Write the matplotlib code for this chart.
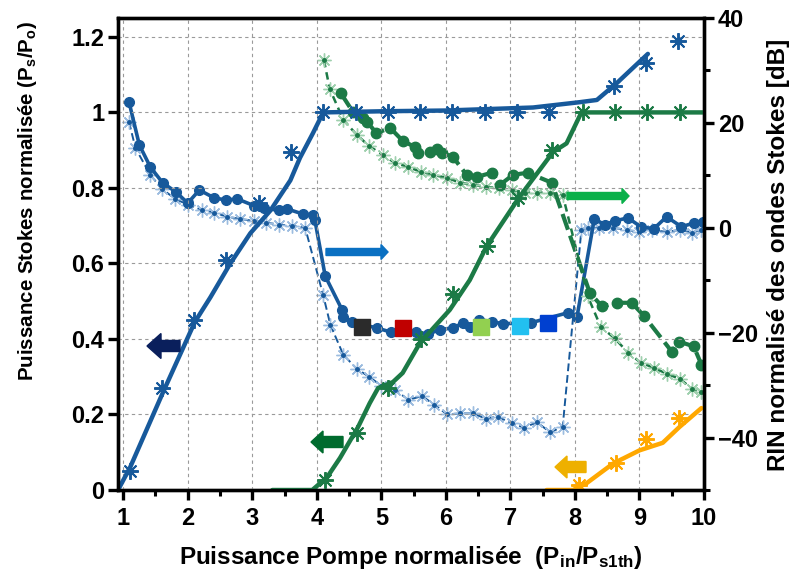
import numpy as np
import matplotlib
matplotlib.use("Agg")
import matplotlib.pyplot as plt
from matplotlib.ticker import MultipleLocator
from matplotlib.patches import Polygon
from matplotlib.transforms import IdentityTransform

plt.rcParams['font.family'] = ['Liberation Sans', 'DejaVu Sans']
plt.rcParams['font.weight'] = 'bold'
plt.rcParams['mathtext.fontset'] = 'custom'
plt.rcParams['mathtext.rm'] = 'Liberation Sans:bold'
plt.rcParams['mathtext.default'] = 'rm'

# --- Stokes power (left axis) ---
blue_pw_line_x = [0.92, 1.11, 1.62, 2.11, 2.35, 2.66, 2.97, 3.28, 3.59, 3.74, 3.94, 4.1,
                  5.0, 6.0, 7.35, 8.07, 8.34, 8.65, 9.13]
blue_pw_line_y = [0, 0.061, 0.26, 0.445, 0.51, 0.60, 0.68, 0.74, 0.82, 0.88, 0.945, 1.0,
                  1.003, 1.005, 1.013, 1.027, 1.033, 1.078, 1.155]
blue_pw_x = [1.1, 1.6, 2.1, 2.6, 3.1, 3.6, 4.1, 4.6, 5.1, 5.6, 6.1, 6.6, 7.1, 7.6, 8.6, 9.1, 9.6]
blue_pw_y = [0.05, 0.27, 0.45, 0.61, 0.76, 0.895, 1.0, 1.0, 1.0, 1.0, 1.0, 1.0, 1.0, 1.0,
             1.07, 1.13, 1.19]

green_pw_line_x = [3.31, 3.93, 4.16, 4.36, 4.64, 4.82, 4.95, 5.18, 5.33, 5.6, 6.06, 6.37,
                   6.63, 7.14, 7.66, 7.87, 8.1, 10.0]
green_pw_line_y = [0, 0, 0.034, 0.085, 0.167, 0.23, 0.27, 0.286, 0.31, 0.39, 0.477, 0.556,
                   0.645, 0.776, 0.895, 0.918, 1.0, 1.0]
green_pw_x = [4.13, 4.62, 5.1, 5.62, 6.11, 6.63, 7.11, 7.64, 8.12, 8.62, 9.11, 9.62]
green_pw_y = [0.026, 0.151, 0.27, 0.40, 0.52, 0.645, 0.773, 0.90, 1.0, 1.0, 1.0, 1.0]

orange_pw_line_x = [7.56, 7.97, 8.18, 8.59, 9.0, 9.36, 9.62, 9.96]
orange_pw_line_y = [0, 0, 0.018, 0.07, 0.105, 0.125, 0.167, 0.217]
orange_pw_x = [8.07, 8.63, 9.1, 9.61]
orange_pw_y = [0.013, 0.071, 0.134, 0.19]

# --- RIN (right axis, dB) ---
rin_blue_c_x = [1.09, 1.25, 1.42, 1.61, 1.82, 2.0, 2.18, 2.41, 2.59, 2.77, 3.03, 3.18, 3.41,
                3.54, 3.79, 3.94, 3.97, 4.13, 4.39, 4.41, 4.55, 4.93, 5.15, 5.54, 5.72, 5.91,
                6.11, 6.27, 6.37, 6.51, 6.72, 6.88, 7.32, 7.89, 8.03, 8.3, 8.46, 8.62, 8.82,
                9.02, 9.22, 9.42, 9.65, 9.84, 9.98]
rin_blue_c_y = [24.0, 15.8, 11.6, 8.6, 6.8, 4.7, 7.2, 5.7, 5.3, 5.5, 4.2, 3.8, 3.3,
                3.6, 2.6, 2.5, 1.5, -9.2, -15.6, -17.0, -18.0, -19.1, -19.9, -19.8, -20.3, -19.4,
                -19.1, -18.1, -18.9, -17.5, -17.9, -18.3, -18.1, -16.2, -17.1, 1.7, 0.6, 1.3, 1.9,
                0.2, -0.2, 2.1, 0.2, 0.9, 1.1]

rin_blue_s_x = [1.09, 1.19, 1.42, 1.6, 1.81, 2.0, 2.22, 2.41, 2.61, 2.81, 3.02, 3.21, 3.42,
                3.61, 3.82, 4.1, 4.21, 4.41, 4.62, 4.81, 5.0, 5.21, 5.42, 5.63, 5.82, 6.02,
                6.22, 6.42, 6.62, 6.8, 7.02, 7.21, 7.41, 7.62, 7.81, 8.1, 8.2, 8.38, 8.59,
                8.8, 8.99, 9.2, 9.42, 9.62, 9.82, 9.96]
rin_blue_s_y = [20.2, 15.2, 10.1, 7.4, 5.5, 4.4, 3.4, 2.9, 2.1, 1.7, 1.3, 1.0, 0.6,
                0.4, 0.0, -12.9, -18.5, -24.2, -26.9, -28.4, -30.1, -30.9, -32.8, -32.1, -33.7, -35.6,
                -35.4, -35.4, -36.4, -36.0, -37.3, -38.1, -37.1, -39.0, -37.9, -0.4, 0.0, 0.0, 0.0,
                -0.4, -0.8, -0.4, -0.8, -0.4, -0.9, -0.4]

rin_green_c_x = [4.37, 4.56, 4.72, 4.78, 4.92, 5.14, 5.33, 5.52, 5.57, 5.75, 5.86, 5.94, 6.11,
                 6.32, 6.48, 6.71, 6.84, 7.04, 7.27, 7.64, 8.23, 8.42, 8.65, 8.88, 9.07, 9.5,
                 9.61, 9.84, 9.96]
rin_green_c_y = [25.7, 22.1, 20.9, 20.2, 18.1, 19.0, 16.6, 15.4, 14.3, 14.4, 15.0, 14.3, 13.5,
                 10.1, 9.7, 10.5, 8.2, 10.1, 10.5, 8.6, -12.4, -15.0, -14.3, -14.3, -16.8, -23.6,
                 -21.7, -22.6, -26.1]

rin_green_s_x = [4.11, 4.2, 4.41, 4.62, 4.81, 5.02, 5.21, 5.41, 5.61, 5.8, 6.02, 6.22, 6.42,
                 6.62, 6.82, 7.02, 7.22, 7.41, 7.61, 7.81, 8.2, 8.4, 8.62, 8.82, 9.02, 9.22,
                 9.42, 9.62, 9.82, 9.96]
rin_green_s_y = [32.0, 26.5, 20.6, 17.7, 15.6, 13.9, 12.4, 11.6, 10.7, 10.1, 9.5, 8.6, 8.2,
                 7.8, 7.6, 7.2, 6.7, 6.7, 6.7, 6.3, -13.1, -18.9, -21.1, -23.8, -25.7, -26.7,
                 -27.8, -28.8, -30.7, -31.4]

# coloured squares on the blue RIN curve
sq_x = [4.70, 5.33, 6.55, 7.15, 7.58]
sq_y = [-18.9, -19.2, -18.9, -18.7, -18.1]
sq_colors = ['#2b2b2b', '#c00000', '#92d050', '#22c0f0', '#0040d0']

x_ticks = [1, 2, 3, 4, 5, 6, 7, 8, 9, 10]
left_ticks = [0, 0.2, 0.4, 0.6, 0.8, 1.0, 1.2]
left_labels = ['0', '0.2', '0.4', '0.6', '0.8', '1', '1.2']
right_ticks = [-40, -20, 0, 20, 40]

BLUE = '#17599b'
LBLUE = '#9dbde0'
GREEN = '#1c7a46'
LGREEN = '#9fd0ae'
ORANGE = '#ffa800'
STAR = (8, 2, 0)

W, H = 789, 581
fig = plt.figure(figsize=(W / 100, H / 100), dpi=100)
ax = fig.add_axes([0.1496, 0.1566, 0.7427, 0.8124])
ax2 = ax.twinx()
ax.set_zorder(ax2.get_zorder() + 1)
ax.patch.set_visible(False)

# RIN curves (right axis)
ax2.plot(rin_blue_s_x, rin_blue_s_y, color=BLUE, lw=1.4, ls=(0, (4, 2)))
ax2.plot(rin_blue_s_x, rin_blue_s_y, ls='none', marker=STAR, ms=10, mec=LBLUE, mew=1.0)
ax2.plot(rin_blue_s_x, rin_blue_s_y, ls='none', marker='o', ms=2.5, color=BLUE)
ax2.plot(rin_blue_c_x, rin_blue_c_y, color=BLUE, lw=2.6, marker='o', ms=7)

ax2.plot(rin_green_s_x, rin_green_s_y, color=GREEN, lw=1.8, ls=(0, (3, 2)))
ax2.plot(rin_green_s_x, rin_green_s_y, ls='none', marker=STAR, ms=10, mec=LGREEN, mew=1.0)
ax2.plot(rin_green_s_x, rin_green_s_y, ls='none', marker='o', ms=2.5, color=GREEN)
ax2.plot(rin_green_c_x, rin_green_c_y, color=GREEN, lw=3, ls=(0, (4, 1.5)), marker='o', ms=7.5)

for x, y, c in zip(sq_x, sq_y, sq_colors):
    ax2.plot(x, y, ls='none', marker='s', ms=11.5, color=c, zorder=5)

# Stokes power (left axis)
ax.plot(blue_pw_line_x, blue_pw_line_y, color=BLUE, lw=3.2, solid_capstyle='round')
ax.plot(blue_pw_x, blue_pw_y, ls='none', marker=STAR, ms=12, mec=BLUE, mew=1.4)
ax.plot(green_pw_line_x, green_pw_line_y, color=GREEN, lw=3.2, solid_capstyle='round')
ax.plot(green_pw_x, green_pw_y, ls='none', marker=STAR, ms=12, mec=GREEN, mew=1.4)
ax.plot(orange_pw_line_x, orange_pw_line_y, color=ORANGE, lw=3.2, solid_capstyle='round')
ax.plot(orange_pw_x, orange_pw_y, ls='none', marker=STAR, ms=12, mec=ORANGE, mew=1.4)


def block_arrow(tail, tip, yc, head_len, head_w, tail_w, color):
    # arrow drawn in figure pixels (origin top-left)
    d = 1 if tip > tail else -1
    hb = tip - d * head_len
    pts = [(tail, yc - tail_w / 2), (hb, yc - tail_w / 2), (hb, yc - head_w / 2), (tip, yc),
           (hb, yc + head_w / 2), (hb, yc + tail_w / 2), (tail, yc + tail_w / 2)]
    pts = [(px, H - py) for px, py in pts]
    fig.patches.append(Polygon(pts, closed=True, color=color, transform=IdentityTransform(),
                               figure=fig, zorder=10))


block_arrow(180, 147, 346, 14, 25, 11, '#0a1f5c')
block_arrow(326, 388, 252, 7, 15, 7, '#0a70c2')
block_arrow(343, 311, 442, 12, 22, 11, '#006b2e')
block_arrow(567, 629, 196, 7, 15, 7, '#0ab04a')
block_arrow(586, 555, 467, 12, 22, 11, '#eeb000')

ax.set_xlim(0.92, 10)
ax.set_ylim(0, 1.25)
ax2.set_ylim(-50, 40)
ax.set_xticks(x_ticks)
ax.xaxis.set_minor_locator(MultipleLocator(0.5))
ax.set_yticks(left_ticks)
ax.set_yticklabels(left_labels)
ax2.set_yticks(right_ticks)
ax2.yaxis.set_minor_locator(MultipleLocator(10))

ax.grid(True, color='#9a9a9a', ls=(0, (3, 3)), lw=0.8)

for a in (ax, ax2):
    for s in a.spines.values():
        s.set_linewidth(2.4)
    a.tick_params(which='major', direction='out', length=7, width=2.4, labelsize=17, pad=3)
    a.tick_params(which='minor', direction='out', length=4, width=2.2)
ax.tick_params(axis='y', which='minor', left=False)
ax.tick_params(axis='x', pad=5)

ax.set_xlabel('Puissance Pompe normalisée  (P$_\\mathrm{in}$/P$_\\mathrm{s1th}$)', fontsize=17.5,
              fontweight='bold', labelpad=10)
ax.set_ylabel('Puissance Stokes normalisée (P$_\\mathrm{s}$/P$_\\mathrm{o}$)', fontsize=14.8,
              fontweight='bold')
ax.yaxis.set_label_coords(-0.135, 0.612)
ax2.set_ylabel('RIN normalisé des ondes Stokes [dB]', fontsize=17.5, fontweight='bold')
ax2.yaxis.set_label_coords(1.1075, 0.498)

fig.savefig('out.png', dpi=100)
